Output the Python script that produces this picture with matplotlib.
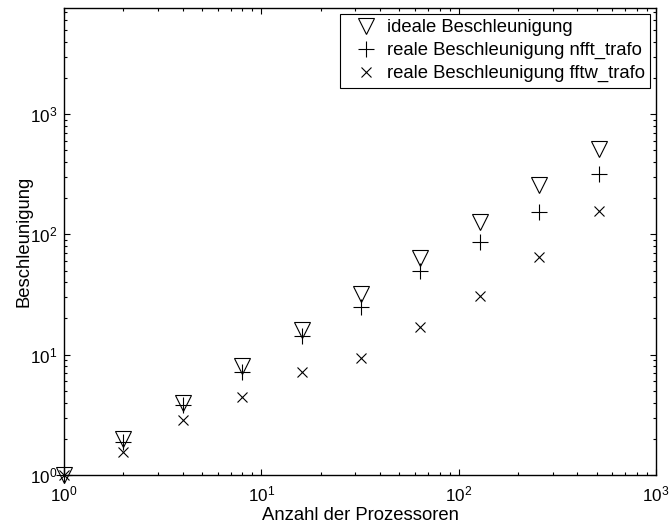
import matplotlib
matplotlib.use("Agg")
import matplotlib.pyplot as plt

plt.rcParams["font.family"] = ["Liberation Sans", "DejaVu Sans"]
plt.rcParams["mathtext.fontset"] = "custom"
plt.rcParams["mathtext.rm"] = "Liberation Sans"
plt.rcParams["mathtext.it"] = "Liberation Sans:italic"
plt.rcParams["font.size"] = 13.3

# processor counts and speedups
procs = [1, 2, 4, 8, 16, 32, 64, 128, 256, 512]
ideal = [1, 2, 4, 8, 16, 32, 64, 128, 256, 512]
nfft = [1.0, 1.89, 3.82, 7.14, 14.4, 25.1, 49.9, 86.9, 154, 318]
fftw = [1.0, 1.56, 2.87, 4.48, 7.18, 9.44, 17.1, 30.5, 64.5, 156.6]

labels = ["ideale Beschleunigung",
          "reale Beschleunigung nfft_trafo",
          "reale Beschleunigung fftw_trafo"]

fig = plt.figure(figsize=(6.7, 5.24), dpi=100)
ax = fig.add_axes([64 / 670, 1 - 475 / 524, (656 - 64) / 670, (475 - 8) / 524])

ax.plot(procs, ideal, "v", ms=11, mfc="none", mec="k", mew=0.8,
        ls="none", label=labels[0], clip_on=False)
ax.plot(procs, nfft, "+", ms=11, mec="k", mew=0.8,
        ls="none", label=labels[1], clip_on=False)
ax.plot(procs, fftw, "x", ms=7.5, mec="k", mew=0.8,
        ls="none", label=labels[2], clip_on=False)

ax.set_xscale("log")
ax.set_yscale("log")
ax.set_xlim(1, 1000)
ax.set_ylim(1, 10 ** 3.882)

ax.tick_params(which="both", direction="in", top=True, right=True, width=0.8)
ax.tick_params(which="major", length=4, labelsize=12.3)
ax.tick_params(which="minor", length=2.2)
ax.tick_params(axis="x", which="major", pad=6.5)
ax.tick_params(axis="y", which="major", pad=5)
for s in ax.spines.values():
    s.set_linewidth(1.0)

ax.set_xlabel("Anzahl der Prozessoren", labelpad=2.5)
ax.set_ylabel("Beschleunigung")
ax.yaxis.set_label_coords(-0.054, 0.5)

leg = ax.legend(loc="upper right", fancybox=False, edgecolor="k",
                framealpha=1, borderpad=0.3, labelspacing=0.32,
                handlelength=2.2, handletextpad=0.05, borderaxespad=0.3)
leg.get_frame().set_linewidth(0.8)

fig.savefig("out.png", dpi=100)
